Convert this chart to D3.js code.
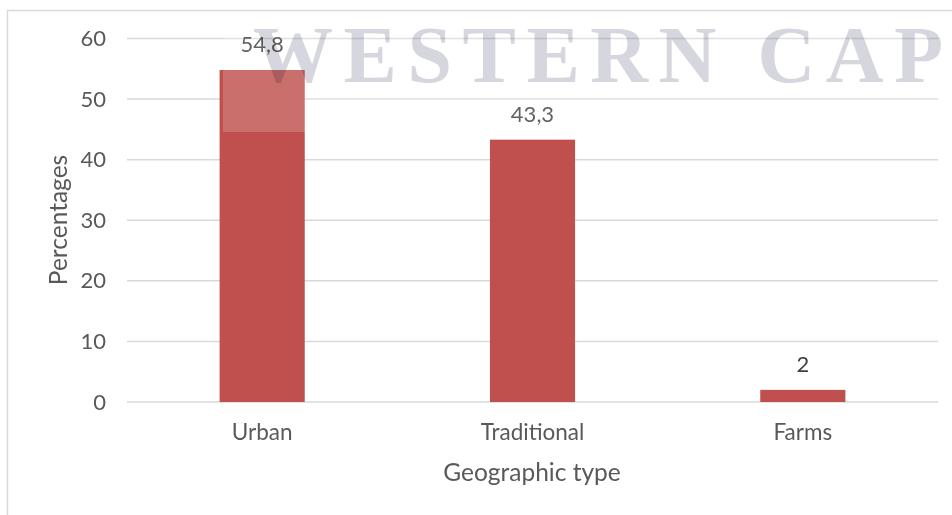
<!DOCTYPE html>
<html>
<head>
<meta charset="utf-8">
<script src="https://cdn.jsdelivr.net/npm/d3@7"></script>
<style>
  html, body { margin: 0; padding: 0; background: #fff; }
  svg { display: block; }
  text { font-family: "Lato", "Open Sans", sans-serif; }
</style>
</head>
<body>
<svg id="chart" width="952" height="515"></svg>
<script>
const categories = ["Urban", "Traditional", "Farms"];
const values = [54.8, 43.3, 2];
const valueLabels = ["54,8", "43,3", "2"];
const yTicks = [0, 10, 20, 30, 40, 50, 60];
const xTitle = "Geographic type";
const yTitle = "Percentages";
const watermark = "WESTERN CAP";

const svg = d3.select("#chart");
const W = 952, H = 515;
const plot = { left: 127, right: 938, top: 38.5, bottom: 402 };

const x = d3.scaleBand()
  .domain(categories)
  .range([plot.left, plot.right])
  .paddingInner(0.685)
  .paddingOuter(0.3425);

const y = d3.scaleLinear()
  .domain([0, 60])
  .range([plot.bottom, plot.top]);

// chart border (partially visible: top and left)
svg.append("path")
  .attr("d", `M7.5,${H} L7.5,10.5 L${W},10.5`)
  .attr("fill", "none")
  .attr("stroke", "#d9d9d9")
  .attr("stroke-width", 1.5);

// gridlines
svg.append("g")
  .selectAll("line")
  .data(yTicks)
  .join("line")
  .attr("x1", plot.left)
  .attr("x2", plot.right)
  .attr("y1", d => y(d))
  .attr("y2", d => y(d))
  .attr("stroke", "#d9d9d9")
  .attr("stroke-width", 1.5);

// y axis labels
const yAxis = d3.axisLeft(y).tickValues(yTicks).tickSize(0).tickPadding(0);
const gy = svg.append("g").attr("transform", `translate(106,0)`).call(yAxis);
gy.select(".domain").remove();
gy.selectAll("text")
  .attr("fill", "#595959")
  .style("font-size", "22px")
  .style("font-family", "Lato, sans-serif");

// bars
svg.append("g")
  .selectAll("rect")
  .data(values)
  .join("rect")
  .attr("x", (d, i) => x(categories[i]))
  .attr("width", x.bandwidth())
  .attr("y", d => y(d))
  .attr("height", d => y(0) - y(d))
  .attr("fill", "#c0504d");

// data labels
svg.append("g")
  .selectAll("text")
  .data(values)
  .join("text")
  .attr("x", (d, i) => x(categories[i]) + x.bandwidth() / 2)
  .attr("y", d => y(d) - 18)
  .attr("text-anchor", "middle")
  .attr("fill", "#404040")
  .style("font-size", "22px")
  .text((d, i) => valueLabels[i]);

// x axis labels
const xAxis = d3.axisBottom(x).tickSize(0).tickPadding(0);
const gx = svg.append("g").attr("transform", `translate(0,440)`).call(xAxis);
gx.select(".domain").remove();
gx.selectAll("text")
  .attr("dy", 0)
  .attr("fill", "#595959")
  .style("font-size", "22.5px")
  .style("font-family", "Lato, sans-serif");

// axis titles
svg.append("text")
  .attr("x", 532)
  .attr("y", 481)
  .attr("text-anchor", "middle")
  .attr("fill", "#595959")
  .style("font-size", "24.5px")
  .text(xTitle);

svg.append("text")
  .attr("transform", `translate(67,220) rotate(-90)`)
  .attr("text-anchor", "middle")
  .attr("fill", "#595959")
  .style("font-size", "24.5px")
  .text(yTitle);

// watermark overlay (semi-transparent white band + letters)
svg.append("rect")
  .attr("x", 223)
  .attr("y", 12)
  .attr("width", W - 223)
  .attr("height", 120)
  .attr("fill", "#ffffff")
  .attr("opacity", 0.18);

svg.append("text")
  .attr("x", 253)
  .attr("y", 82)
  .attr("textLength", 690)
  .attr("lengthAdjust", "spacing")
  .attr("fill", "#d6d6df")
  .style("mix-blend-mode", "multiply")
  .style("font-family", "'Liberation Serif', 'DejaVu Serif', serif")
  .style("font-weight", "bold")
  .style("font-size", "80px")
  .text(watermark);
</script>
</body>
</html>
